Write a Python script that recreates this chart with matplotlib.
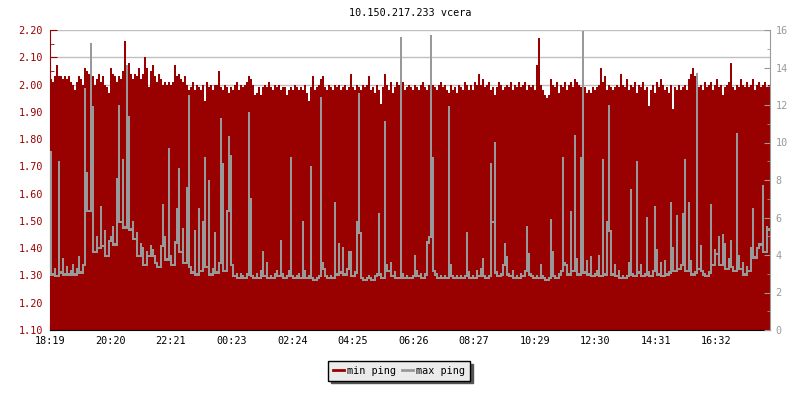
import numpy as np
import matplotlib
matplotlib.use("Agg")
import matplotlib.pyplot as plt
from matplotlib.lines import Line2D
from matplotlib.ticker import MultipleLocator, FixedLocator, FormatStrFormatter

title = "10.150.217.233 vcera"
x_tick_labels = ["18:19", "20:20", "22:21", "00:23", "02:24", "04:25",
                 "06:26", "08:27", "10:29", "12:30", "14:31", "16:32"]
bin_minutes = 4  # each sample covers 4 minutes, 24 h shown

# min ping (left axis), 12 blocks of 30 samples
min_ping = [
    2.02, 2.01, 2.03, 2.07, 2.03, 2.03, 2.02, 2.03, 2.02, 2.03, 2.01, 2.00, 1.98, 2.01, 2.03,
    2.02, 2.00, 2.06, 2.05, 2.04, 2.01, 2.03, 2.00, 2.02, 2.04, 2.01, 2.03, 2.00, 1.99, 1.97,
    2.06, 2.04, 2.03, 2.01, 2.03, 2.02, 2.05, 2.16, 2.07, 2.08, 2.04, 2.02, 2.04, 2.03, 2.06,
    2.02, 2.04, 2.10, 2.06, 1.99, 2.05, 2.07, 2.03, 2.01, 2.04, 2.02, 2.00, 2.01, 2.00, 2.01,
    2.00, 2.01, 2.07, 2.03, 2.04, 2.02, 2.01, 2.03, 2.00, 1.98, 1.99, 2.01, 1.98, 2.00, 1.99,
    1.98, 2.00, 1.94, 2.01, 1.99, 2.00, 1.98, 2.00, 2.00, 2.05, 1.99, 1.98, 2.00, 1.99, 1.97,
    1.99, 1.98, 2.00, 2.01, 1.98, 2.00, 1.99, 2.00, 2.01, 2.03, 2.02, 2.00, 1.96, 1.97, 1.99,
    1.96, 1.99, 2.00, 1.99, 2.01, 1.99, 1.98, 2.00, 1.99, 2.00, 1.98, 1.99, 1.99, 1.96, 1.98,
    1.99, 1.98, 2.00, 1.99, 1.98, 1.99, 1.98, 2.00, 1.97, 1.94, 1.99, 2.03, 1.98, 1.99, 2.00,
    2.02, 2.03, 1.99, 1.98, 2.00, 1.99, 1.98, 2.00, 1.99, 2.00, 1.98, 1.99, 2.00, 1.98, 1.99,
    2.04, 1.99, 1.98, 2.00, 1.99, 1.98, 2.00, 1.99, 2.00, 2.03, 1.98, 1.99, 1.97, 2.00, 1.98,
    1.93, 1.99, 2.04, 2.00, 1.98, 2.01, 1.97, 1.99, 2.01, 2.00, 1.99, 2.01, 1.98, 1.99, 2.00,
    1.99, 1.98, 2.00, 1.99, 1.98, 2.00, 2.01, 1.99, 1.98, 2.00, 2.01, 2.00, 1.99, 1.98, 2.00,
    2.01, 1.99, 2.00, 1.98, 1.97, 2.00, 1.98, 1.99, 1.97, 2.00, 1.99, 1.98, 2.01, 2.00, 1.98,
    2.00, 1.98, 2.01, 2.00, 2.04, 2.00, 2.02, 1.99, 2.00, 2.01, 1.98, 1.99, 1.96, 1.99, 2.01,
    2.00, 1.98, 1.99, 2.00, 1.99, 2.01, 1.98, 2.00, 1.99, 2.01, 1.99, 2.00, 2.01, 1.98, 2.00,
    1.99, 2.00, 1.98, 2.07, 2.17, 2.00, 1.98, 1.96, 1.95, 1.96, 2.02, 2.00, 1.99, 2.01, 1.97,
    2.00, 1.99, 2.01, 1.98, 2.00, 2.01, 1.99, 2.02, 2.01, 2.00, 1.99, 1.98, 1.99, 1.97, 1.98,
    1.97, 1.99, 1.98, 1.99, 2.00, 2.06, 2.01, 2.03, 1.98, 2.00, 1.99, 1.98, 1.99, 2.00, 1.99,
    2.04, 2.00, 1.99, 2.02, 1.98, 2.00, 1.99, 2.01, 1.97, 2.00, 1.99, 2.01, 1.98, 1.99, 1.92,
    1.98, 2.00, 1.97, 2.01, 1.99, 2.02, 2.00, 1.98, 1.99, 1.97, 2.00, 1.91, 1.99, 1.98, 2.00,
    1.98, 1.99, 2.00, 1.98, 2.02, 2.04, 2.06, 2.03, 2.00, 1.99, 2.00, 1.98, 2.01, 1.99, 2.00,
    2.01, 1.98, 2.00, 2.02, 1.99, 2.00, 1.96, 1.99, 2.00, 2.01, 2.08, 1.99, 1.98, 2.00, 1.99,
    2.02, 2.00, 1.99, 2.01, 1.99, 2.00, 2.02, 1.98, 2.00, 2.01, 1.99, 2.00, 2.01, 1.99, 2.00,
]

# max ping (right axis), 12 blocks of 30 samples
max_ping = [
    9.5, 3.0, 3.3, 2.9, 9.0, 3.1, 3.8, 3.0, 3.4, 3.0, 3.2, 3.5, 3.0, 3.3, 3.9,
    3.1, 3.5, 12.9, 8.4, 6.4, 15.3, 11.9, 4.2, 5.0, 4.4, 6.6, 4.5, 5.3, 4.0, 4.8,
    5.0, 5.5, 4.6, 8.1, 12.0, 5.8, 9.1, 5.5, 14.1, 11.4, 5.4, 5.8, 4.9, 5.2, 4.0,
    4.6, 4.4, 3.5, 4.2, 4.0, 4.5, 4.3, 4.0, 3.6, 3.4, 4.5, 6.7, 5.0, 3.8, 9.7,
    4.0, 3.5, 4.7, 6.5, 8.6, 4.2, 5.4, 3.6, 7.6, 12.5, 3.4, 3.1, 5.3, 3.0, 6.5,
    3.2, 5.8, 9.2, 3.4, 8.0, 3.0, 3.3, 5.2, 3.1, 3.6, 11.3, 8.9, 3.2, 6.4, 10.3,
    9.3, 3.5, 2.9, 3.0, 2.8, 3.0, 2.9, 2.8, 3.0, 11.6, 7.0, 2.9, 2.8, 3.0, 2.8,
    3.2, 4.2, 2.9, 3.6, 2.8, 2.9, 2.8, 3.0, 3.2, 2.9, 4.8, 3.0, 2.8, 2.9, 3.2,
    9.2, 2.9, 2.8, 2.9, 3.0, 2.8, 5.8, 3.2, 2.8, 2.9, 8.7, 2.8, 2.7, 2.8, 2.9,
    12.4, 3.6, 3.3, 2.9, 2.8, 2.9, 2.8, 6.8, 3.0, 4.6, 3.1, 4.4, 3.0, 3.3, 4.2,
    4.2, 2.9, 3.1, 5.8, 12.6, 5.2, 2.8, 2.7, 2.8, 2.9, 2.8, 2.7, 2.9, 3.0, 6.2,
    3.0, 2.8, 11.1, 3.5, 3.2, 3.6, 2.9, 3.1, 2.8, 2.8, 15.6, 3.0, 2.8, 2.9, 2.8,
    2.8, 2.9, 4.0, 3.2, 2.9, 3.0, 2.8, 3.0, 4.7, 5.0, 15.7, 9.2, 3.2, 3.0, 2.8,
    2.9, 2.8, 2.9, 2.8, 11.9, 3.5, 2.9, 2.8, 2.9, 2.8, 2.9, 2.8, 2.9, 5.2, 3.1,
    2.8, 2.9, 2.8, 3.2, 2.9, 3.3, 3.8, 2.9, 2.8, 2.9, 8.9, 5.8, 10.0, 3.1, 2.9,
    3.0, 3.5, 4.6, 3.9, 3.0, 2.9, 3.2, 2.8, 2.9, 2.8, 3.0, 2.9, 3.2, 5.5, 4.1,
    3.0, 2.9, 2.8, 2.9, 2.8, 3.5, 2.9, 2.8, 2.7, 2.8, 5.9, 4.2, 2.9, 2.8, 3.0,
    3.2, 9.2, 3.6, 3.5, 3.0, 6.3, 3.2, 10.4, 3.8, 3.0, 9.2, 15.9, 3.1, 3.7, 3.0,
    3.9, 2.9, 3.0, 3.2, 4.0, 2.9, 9.1, 3.0, 5.8, 12.0, 5.3, 3.0, 3.5, 2.9, 3.2,
    2.8, 2.9, 2.8, 2.9, 3.6, 7.5, 3.0, 2.9, 9.0, 3.1, 3.5, 2.9, 3.0, 6.0, 3.1,
    2.9, 3.2, 6.6, 4.3, 3.0, 3.6, 2.9, 3.7, 3.0, 3.1, 6.8, 4.4, 3.2, 6.1, 3.3,
    3.5, 6.2, 9.1, 3.2, 6.8, 3.7, 3.0, 3.1, 13.7, 3.3, 4.5, 3.2, 3.0, 2.9, 3.1,
    6.7, 3.5, 4.3, 4.1, 5.0, 3.5, 5.1, 4.6, 3.3, 3.8, 4.8, 3.4, 3.2, 10.5, 4.0,
    3.3, 3.6, 3.0, 3.4, 3.2, 4.4, 6.5, 3.9, 4.4, 4.6, 4.6, 7.7, 4.2, 5.5, 5.4,
]

RED = "#990000"
GRAY = "#999999"
FONT = "DejaVu Sans Mono"
FS = 7.3

def minutes_from_start(lbl, start):
    h, m = map(int, lbl.split(":"))
    sh, sm = map(int, start.split(":"))
    return ((h * 60 + m) - (sh * 60 + sm)) % 1440

edges = np.arange(len(min_ping) + 1) * bin_minutes
tick_pos = [minutes_from_start(l, x_tick_labels[0]) for l in x_tick_labels]

# the max-ping trace is drawn like a 1px step line: each sample spans from
# the lower of its neighbours up to its own value
mp = np.asarray(max_ping)
prev_v = np.concatenate([[mp[0]], mp[:-1]])
next_v = np.concatenate([mp[1:], [mp[-1]]])
line_floor = np.minimum(np.minimum(prev_v, next_v), mp) - 0.07

fig = plt.figure(figsize=(8, 4), dpi=100)
ax = fig.add_axes([50 / 800, 70 / 400, 720 / 800, 300 / 400])
ax.set_xlim(0, edges[-1])
ax.set_ylim(1.10, 2.20)
ax.set_axisbelow(True)
ax.yaxis.grid(True, color="#c0c0c0", lw=1.0)
ax.stairs(min_ping, edges, baseline=1.10, fill=True, color=RED, antialiased=False, zorder=2)

ax.yaxis.set_major_locator(MultipleLocator(0.1))
ax.yaxis.set_minor_locator(MultipleLocator(0.05))
ax.yaxis.set_major_formatter(FormatStrFormatter("%.2f"))
ax.tick_params(axis="y", which="major", direction="in", length=5, color=RED,
               labelcolor=RED, labelsize=FS, pad=5)
ax.tick_params(axis="y", which="minor", direction="in", length=3, color=RED)
ax.xaxis.set_major_locator(FixedLocator(tick_pos))
ax.set_xticklabels(x_tick_labels)
ax.tick_params(axis="x", which="major", direction="in", length=5, color="black",
               labelsize=FS, pad=4)
for lbl in ax.get_xticklabels() + ax.get_yticklabels():
    lbl.set_fontfamily(FONT)
ax.spines["left"].set_color(RED)
ax.spines["bottom"].set_color("black")
ax.spines["top"].set_visible(False)
ax.spines["right"].set_visible(False)

ax2 = ax.twinx()
ax2.set_ylim(0, 16)
ax2.stairs(max_ping, edges, baseline=line_floor, fill=True, color=GRAY,
           antialiased=False, lw=0, zorder=3)
ax2.yaxis.set_major_locator(MultipleLocator(2))
ax2.yaxis.set_minor_locator(MultipleLocator(1))
ax2.tick_params(axis="y", which="major", direction="in", length=4, color=GRAY,
                labelcolor=GRAY, labelsize=FS, pad=4)
ax2.tick_params(axis="y", which="minor", direction="in", length=2.5, color=GRAY)
for lbl in ax2.get_yticklabels():
    lbl.set_fontfamily(FONT)
ax2.spines["right"].set_color(GRAY)
ax2.spines["left"].set_visible(False)
ax2.spines["top"].set_visible(False)
ax2.spines["bottom"].set_visible(False)

fig.text(0.5125, 1 - 13 / 400, title, ha="center", va="center",
         fontsize=FS, fontfamily=FONT, color="black")

handles = [Line2D([], [], color=RED, lw=2.0), Line2D([], [], color=GRAY, lw=2.0)]
leg = fig.legend(handles, ["min ping", "max ping"], loc="center",
                 bbox_to_anchor=(399 / 800, 1 - 371 / 400), ncol=2, frameon=True,
                 fancybox=False, shadow={"color": "#555555", "alpha": 1.0},
                 prop={"family": FONT, "size": FS}, handlelength=1.1,
                 handletextpad=0.35, columnspacing=0.5, borderpad=0.45,
                 borderaxespad=0)
leg.get_frame().set_edgecolor("black")
leg.get_frame().set_facecolor("#ebebeb")
leg.get_frame().set_linewidth(1.0)

fig.savefig("out.png", dpi=100)
